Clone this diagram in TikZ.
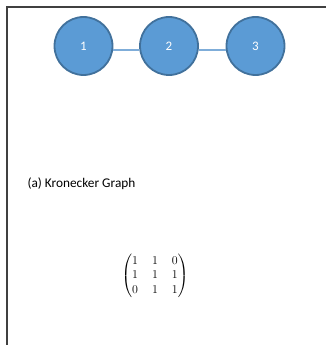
\documentclass[tikz,border=0pt]{standalone}
\usepackage{amsmath}
\usepackage{fontspec}
\setmainfont{Carlito}
\definecolor{nodefill}{HTML}{5B9BD5}
\definecolor{nodeedge}{HTML}{41719C}
\definecolor{linkcol}{HTML}{7FADD9}
\definecolor{framecol}{HTML}{404040}
\begin{document}
\begin{tikzpicture}[x=1pt,y=-1pt,
  vertex/.style={circle,draw=nodeedge,fill=nodefill,line width=1.8pt,minimum size=58pt,inner sep=0pt,text=white,font=\fontsize{13}{15}\selectfont},
  link/.style={draw=linkcol,line width=1.5pt},
  frameline/.style={draw=framecol,line width=2pt}]
\useasboundingbox (0,0) rectangle (326,345);
\draw[frameline] (7,345) -- (7,7) -- (326,7);
\node[vertex] (n1) at (83.5,46) {1};
\node[vertex] (n2) at (169,46) {2};
\node[vertex] (n3) at (255.5,46) {3};
\draw[link] (n1.east |- 0,50) -- (n2.west |- 0,50);
\draw[link] (n2.east |- 0,50) -- (n3.west |- 0,50);
\node[anchor=west,font=\fontsize{13.3}{15}\selectfont] (cap) at (24,184) {(a) Kronecker Graph};
\node (mat) at (155,276) {\fontsize{13}{14.5}\selectfont\setlength{\arraycolsep}{7pt}$\begin{pmatrix}1&1&0\\1&1&1\\0&1&1\end{pmatrix}$};
\end{tikzpicture}
\end{document}
